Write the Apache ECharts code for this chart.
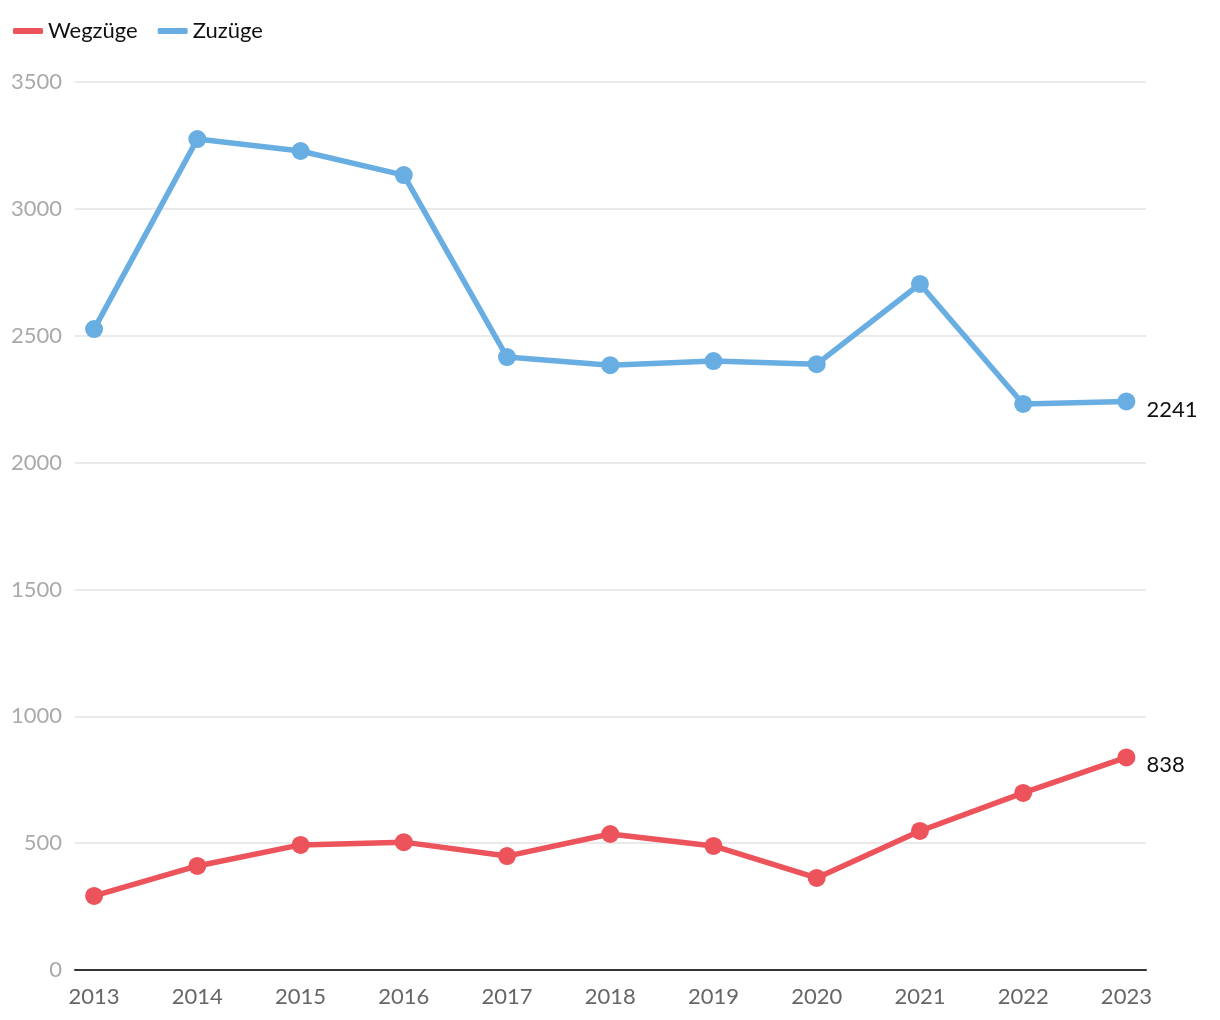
<!DOCTYPE html>
<html>
<head>
<meta charset="utf-8">
<script src="https://cdn.jsdelivr.net/npm/echarts@6/dist/echarts.min.js"></script>
<style>html,body{margin:0;padding:0;background:#fff}#c{width:1220px;height:1020px}</style>
</head>
<body>
<div id="c"></div>
<script>
const years = [2013, 2014, 2015, 2016, 2017, 2018, 2019, 2020, 2021, 2022, 2023];
const wegzuege = [292, 410, 493, 504, 449, 536, 489, 363, 548, 698, 838];
const zuzuege = [2526, 3275, 3228, 3133, 2416, 2384, 2400, 2388, 2704, 2231, 2241];
const yTicks = [0, 500, 1000, 1500, 2000, 2500, 3000, 3500];

const FONT = 'Lato';
function mk(name, vals, color) {
  return {
    name: name,
    type: 'line',
    data: vals.map((v, i) => ({
      value: [years[i], v],
      label: i === vals.length - 1 ? {
        show: true, position: 'right', distance: 11, offset: [0, 8],
        formatter: String(v), color: '#111', fontSize: 22, fontFamily: FONT
      } : { show: false }
    })),
    color: color,
    lineStyle: { width: 5.5, color: color },
    itemStyle: { color: color },
    symbol: 'circle',
    symbolSize: 18,
    showSymbol: true,
    z: 3
  };
}
const chart = echarts.init(document.getElementById('c'), null, { renderer: 'canvas' });
chart.setOption({
  animation: false,
  backgroundColor: '#fff',
  textStyle: { fontFamily: FONT },
  legend: {
    left: 8, top: 15,
    itemWidth: 30, itemHeight: 6, itemGap: 20,
    icon: 'roundRect',
    textStyle: { fontSize: 22, color: '#111', fontFamily: FONT },
    data: ['Wegzüge', 'Zuzüge']
  },
  grid: { left: 75, right: 74, top: 82, bottom: 50, containLabel: false },
  xAxis: {
    type: 'value',
    min: 2012.815, max: 2023.19,
    axisLine: { show: true, lineStyle: { color: '#333', width: 2 } },
    axisTick: { show: false },
    splitLine: { show: false },
    axisLabel: {
      customValues: years, color: '#666', fontSize: 22, margin: 16, fontFamily: FONT,
      formatter: v => String(v)
    }
  },
  yAxis: {
    type: 'value', min: 0, max: 3500, interval: 500,
    axisLine: { show: false }, axisTick: { show: false },
    splitLine: { lineStyle: { color: '#e3e3e3', width: 1.5 } },
    axisLabel: { color: '#aaa', fontSize: 22, margin: 13, fontFamily: FONT,
      formatter: v => yTicks.includes(v) ? String(v) : '' }
  },
  series: [mk('Wegzüge', wegzuege, '#ec535b'), mk('Zuzüge', zuzuege, '#69aee3')]
});
</script>
</body>
</html>
